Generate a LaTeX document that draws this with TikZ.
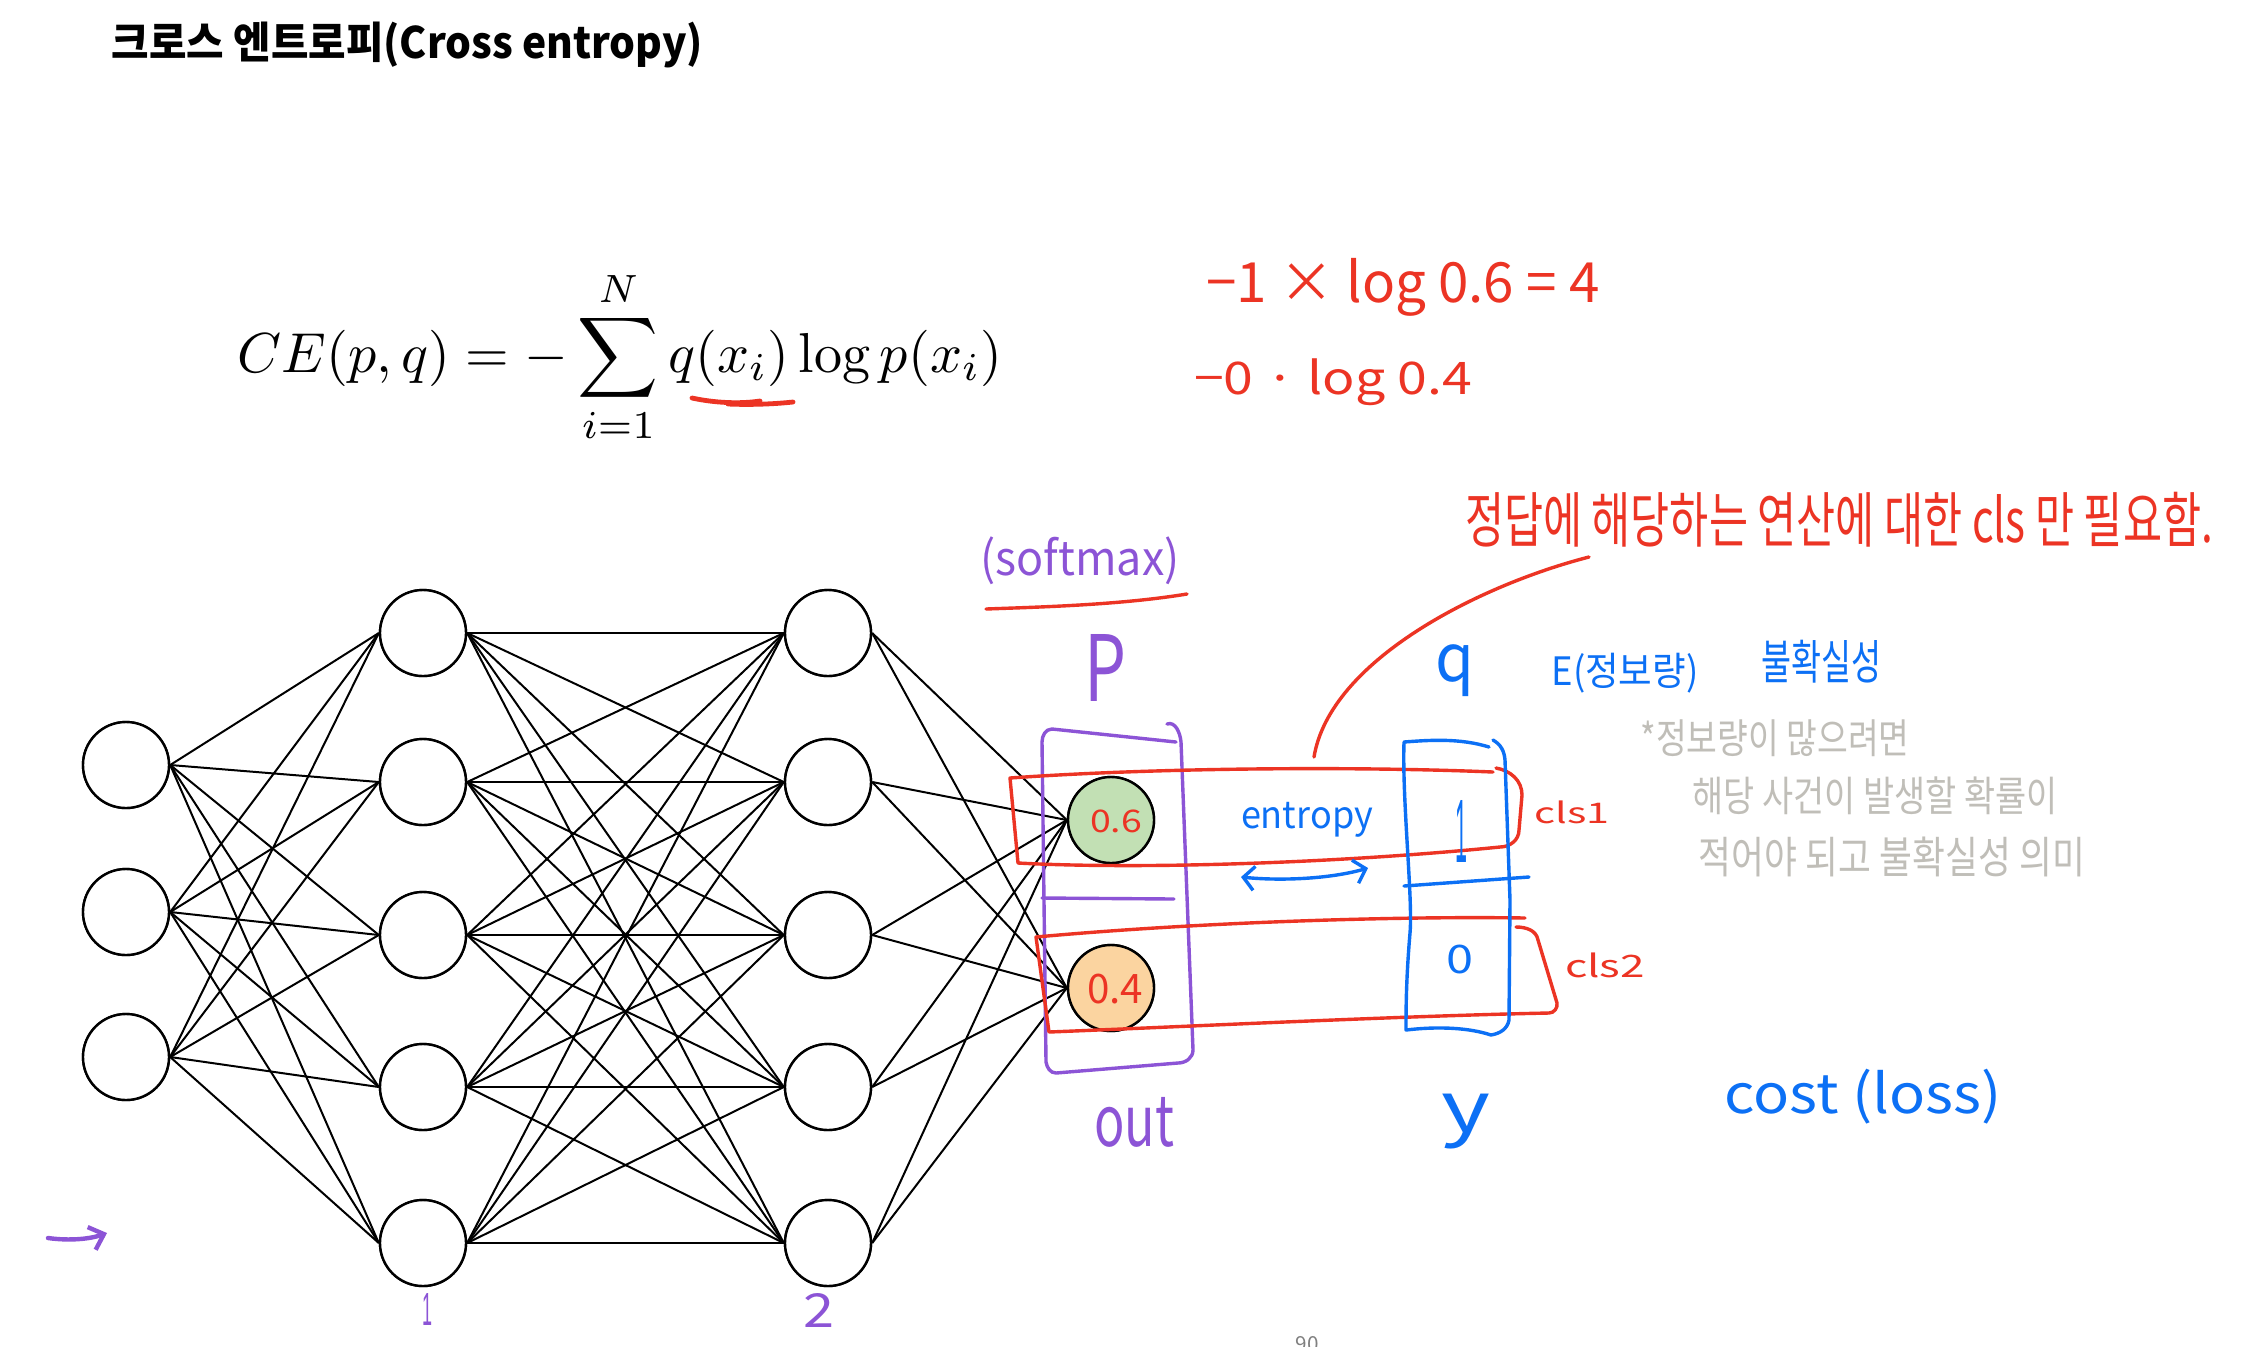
\documentclass[tikz,border=0pt]{standalone}
\usepackage{fontspec}
\usepackage{graphicx}
\usetikzlibrary{arrows.meta}
\newfontfamily\kr{Noto Sans CJK KR}
\newfontfamily\lsans{Liberation Sans}
\definecolor{hred}{RGB}{236,52,36}
\definecolor{hpurple}{RGB}{140,84,214}
\definecolor{hblue}{RGB}{12,112,245}
\definecolor{hgray}{RGB}{192,190,184}
\definecolor{ogreen}{RGB}{194,224,180}
\definecolor{oorange}{RGB}{251,212,160}
\tikzset{
  lbl/.style={inner sep=0pt, outer sep=0pt},
  hand/.style={line width=1.7pt, line cap=round, line join=round},
  neuron/.style={circle, draw=black, line width=1.2pt, minimum size=43pt, inner sep=0pt, fill=white},
  conn/.style={draw=black, line width=1pt},
}
\begin{document}
\begin{tikzpicture}[x=0.5pt,y=-0.5pt]
\fill[white] (0,0) rectangle (2248,1346);
\useasboundingbox (0,0) rectangle (2248,1346);

% title
\node[lbl] (title) at (407.5,45) {\resizebox*{295.5pt}{23pt}{\kr\bfseries 크로스 엔트로피(Cross entropy)}};

% formula
\node[lbl] (ce) at (620,357) {\resizebox*{382.5pt}{87.5pt}{$\displaystyle CE(p,q) = -\sum_{i=1}^{N} q(x_i)\log p(x_i)$}};
\draw[hand,hred,line width=2.4pt] (692,398) .. controls (715,403) and (740,404) .. (760,401);
\draw[hand,hred,line width=2.4pt] (728,404) .. controls (750,405) and (775,404) .. (793,402);

% red calculations
\node[lbl,text=hred] (eqa) at (1403,287) {\resizebox*{196.5pt}{29pt}{\kr −1 × log 0.6 = 4}};
\node[lbl,text=hred] (eqb) at (1333,382) {\resizebox*{139pt}{23.5pt}{\kr −0 · log 0.4}};

% network nodes
\foreach \i/\y in {1/765,2/912,3/1057} \node[neuron] (in\i) at (126,\y) {};
\foreach \i/\y in {1/633,2/782,3/935,4/1087,5/1243} \node[neuron] (ha\i) at (423,\y) {};
\foreach \i/\y in {1/633,2/782,3/935,4/1087,5/1243} \node[neuron] (hb\i) at (828,\y) {};
\node[neuron,fill=ogreen] (o1) at (1111,820) {};
\node[neuron,fill=oorange] (o2) at (1111,988) {};

\foreach \i in {1,2,3} \foreach \j in {1,...,5} \draw[conn] (in\i.east) -- (ha\j.west);
\foreach \i in {1,...,5} \foreach \j in {1,...,5} \draw[conn] (ha\i.east) -- (hb\j.west);
\foreach \i in {1,...,5} \foreach \j in {1,2} \draw[conn] (hb\i.east) -- (o\j.west);

% redraw nodes on top of the connectors
\foreach \i/\y in {1/765,2/912,3/1057} \node[neuron] at (126,\y) {};
\foreach \i/\y in {1/633,2/782,3/935,4/1087,5/1243} \node[neuron] at (423,\y) {};
\foreach \i/\y in {1/633,2/782,3/935,4/1087,5/1243} \node[neuron] at (828,\y) {};
\node[neuron,fill=ogreen] at (1111,820) {};
\node[neuron,fill=oorange] at (1111,988) {};
\node[lbl,text=hred] (v1) at (1116,821) {\resizebox*{26pt}{11.5pt}{\kr 0.6}};
\node[lbl,text=hred] (v2) at (1115,989) {\resizebox*{28pt}{15pt}{\kr 0.4}};

% layer labels
\node[lbl,text=hpurple] (l1) at (427,1309) {\resizebox*{5pt}{16pt}{\lsans 1}};
\node[lbl,text=hpurple] (l2) at (819,1310) {\resizebox*{15.5pt}{17pt}{\kr 2}};
\coordinate (arA) at (48,1238);
\coordinate (arB) at (107,1233);
\draw[hand,hpurple,line width=2.2pt,-{Straight Barb[length=6.5pt,width=12pt]}] (arA) .. controls (70,1241) and (90,1239) .. (arB);

% softmax / P / out
\node[lbl,text=hpurple] (softmax) at (1080,561) {\resizebox*{99.5pt}{24pt}{\kr (softmax)}};
\draw[hand,hred] (986,609) .. controls (1040,607) and (1120,605) .. (1187,594);
\node[lbl,text=hpurple] (P) at (1105,668) {\resizebox*{21pt}{33.5pt}{\kr P}};
\node[lbl,text=hpurple] (out) at (1134,1122) {\resizebox*{40pt}{25pt}{\kr out}};
\draw[hand,hpurple] (1167,724) to[out=20,in=95] (1181,742) -- (1193,1050) to[out=-90,in=0] (1178,1063) -- (1056,1073) to[out=180,in=-80] (1046,1062) -- (1042,742) to[out=90,in=180] (1052,729) -- (1176,742);
\draw[hand,hpurple] (1042,898) -- (1174,899);

% red class boxes
\draw[hand,hred] (1493,772) .. controls (1350,766) and (1150,768) .. (1010,778) -- (1018,863) .. controls (1150,870) and (1350,862) .. (1500,847) to[out=0,in=-90] (1519,830) -- (1522,795) to[out=90,in=-10] (1496,768);
\node[lbl,text=hred] (cls1) at (1572,812) {\resizebox*{37.5pt}{11.5pt}{\kr cls1}};
\draw[hand,hred] (1525,918) .. controls (1400,916) and (1200,922) .. (1036,937) -- (1049,1032) .. controls (1200,1026) and (1400,1016) .. (1549,1013) to[out=0,in=-80] (1557,1003) -- (1538,940) to[out=100,in=0] (1516,927);
\node[lbl,text=hred] (cls2) at (1605,965) {\resizebox*{40pt}{12.5pt}{\kr cls2}};

% red note
\node[lbl,text=hred] (note) at (1839,519.5) {\resizebox*{374pt}{27.5pt}{\kr 정답에 해당하는 연산에 대한 cls 만 필요함.}};
\coordinate (noteA) at (1589,557);
\coordinate (noteB) at (1314,757);
\draw[hand,hred] (noteA) .. controls (1480,585) and (1330,660) .. (noteB);

% entropy
\node[lbl,text=hblue] (entropy) at (1307,820) {\resizebox*{66pt}{17.5pt}{\kr entropy}};
\draw[hand,hblue,{Straight Barb[length=5.5pt,width=12pt]}-{Straight Barb[length=5.5pt,width=12pt]}] (1241,877) .. controls (1280,881) and (1330,879) .. (1368,868);

% y box
\draw[hand,hblue] (1489,747) .. controls (1460,738) and (1430,740) .. (1404,742) .. controls (1402,800) and (1413,900) .. (1410,933) .. controls (1406,980) and (1406,1010) .. (1406,1030) .. controls (1440,1026) and (1470,1028) .. (1491,1035) to[out=10,in=-100] (1509,1020) -- (1510,900) -- (1505,760) to[out=95,in=-30] (1493,740);
\draw[hand,hblue] (1404,886) -- (1529,877);
\node[lbl,text=hblue] (one) at (1461,831) {\resizebox*{6pt}{31pt}{\lsans 1}};
\node[lbl,text=hblue] (zero) at (1460,959) {\resizebox*{13.5pt}{14.5pt}{\kr 0}};
\node[lbl,text=hblue] (q) at (1455,671) {\resizebox*{19.5pt}{26pt}{\kr q}};
\node[lbl,text=hblue] (y) at (1466,1122) {\resizebox*{24.5pt}{27.5pt}{\kr y}};

% blue notes
\node[lbl,text=hblue] (E) at (1625,673) {\resizebox*{73.5pt}{20pt}{\kr E(정보량)}};
\node[lbl,text=hblue] (unc) at (1821,662) {\resizebox*{60pt}{21.5pt}{\kr 불확실성}};
\node[lbl,text=hblue] (cost) at (1863,1097) {\resizebox*{138.5pt}{27.5pt}{\kr cost (loss)}};

% gray notes
\node[lbl,text=hgray] (g1) at (1775,738) {\resizebox*{134.5pt}{18.5pt}{\kr *정보량이 많으려면}};
\node[lbl,text=hgray] (g2) at (1875,796) {\resizebox*{182.5pt}{19pt}{\kr 해당 사건이 발생할 확률이}};
\node[lbl,text=hgray] (g3) at (1892,857) {\resizebox*{193pt}{20pt}{\kr 적어야 되고 불확실성 의미}};

% page number fragment
\node[lbl,anchor=north,text=gray] (pg) at (1307,1336) {\resizebox{11.5pt}{!}{\kr 90}};
\end{tikzpicture}
\end{document}
